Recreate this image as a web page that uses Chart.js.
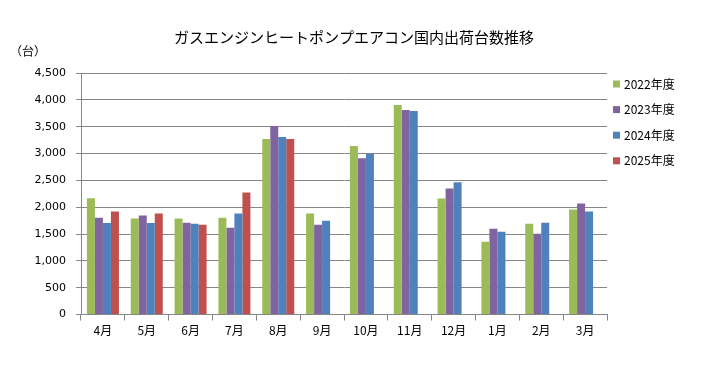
<!DOCTYPE html>
<html><head><meta charset="utf-8">
<script src="https://cdn.jsdelivr.net/npm/chart.js@4"></script>
<style>html,body{margin:0;padding:0;background:#fff}#wrap{width:708px;height:370px}</style>
</head><body><div id="wrap"><canvas id="c" width="708" height="370"></canvas></div>
<script>
const categories = ['4月','5月','6月','7月','8月','9月','10月','11月','12月','1月','2月','3月'];
const seriesNames = ['2022年度','2023年度','2024年度','2025年度'];
const fy2022 = [2165,1788,1788,1806,3269,1881,3138,3906,2163,1356,1694,1956];
const fy2023 = [1806,1844,1713,1619,3513,1675,2913,3813,2350,1600,1506,2069];
const fy2024 = [1706,1706,1694,1881,3306,1750,2994,3794,2463,1544,1713,1919];
const fy2025 = [1919,1881,1675,2275,3269,null,null,null,null,null,null,null];
const titleText = 'ガスエンジンヒートポンプエアコン国内出荷台数推移';
const unitText = '（台）';
const yTicksMax = 4500, yStep = 500;
const colors = ['#9BBB59','#8064A2','#4F81BD','#C0504D'];
const jp = '"Noto Sans CJK JP", "DejaVu Sans", sans-serif';

const extras = {
  id:'extras',
  afterDraw(chart){
    const ctx = chart.ctx;
    ctx.save();
    ctx.fillStyle = '#000';
    ctx.textBaseline = 'middle';
    ctx.textAlign = 'center';
    ctx.font = '15px ' + jp;
    ctx.fillText(titleText, 354, 37);
    ctx.textAlign = 'left';
    ctx.font = '12px ' + jp;
    ctx.fillText(unitText, 10, 51);
    // legend
    const ca = chart.chartArea;
    chart.data.datasets.forEach((ds,i)=>{
      const y = 84 + i*25.6;
      ctx.fillStyle = ds.backgroundColor;
      ctx.fillRect(ca.right + 6, y - 3.5, 7, 7);
      ctx.fillStyle = '#000';
      ctx.fillText(ds.label, ca.right + 17, y);
    });
    ctx.restore();
  }
};

new Chart(document.getElementById('c'), {
  type:'bar',
  data:{
    labels: categories,
    datasets: [fy2022, fy2023, fy2024, fy2025].map((d,i)=>({
      label: seriesNames[i], data: d, backgroundColor: colors[i],
      categoryPercentage: 0.73, barPercentage: 1.0
    }))
  },
  options:{
    responsive:false, animation:false, locale:'en-US',
    layout:{padding:{left:10, right:101, top:73, bottom:29}},
    plugins:{
      title:{display:false},
      legend:{display:false},
      tooltip:{enabled:false}
    },
    scales:{
      x:{
        grid:{display:true, drawOnChartArea:false, color:'#868686', tickLength:6, offset:true},
        border:{color:'#868686'},
        ticks:{color:'#000', font:{family:jp, size:12}, padding:3}
      },
      y:{
        min:0, max:yTicksMax,
        afterFit(s){ s.width = 71; },
        ticks:{stepSize:yStep, color:'#000', font:{family:'"DejaVu Sans", sans-serif', size:11}, padding:10},
        grid:{color:'#868686', tickLength:5},
        border:{color:'#868686'}
      }
    }
  },
  plugins:[extras]
});
</script></body></html>
